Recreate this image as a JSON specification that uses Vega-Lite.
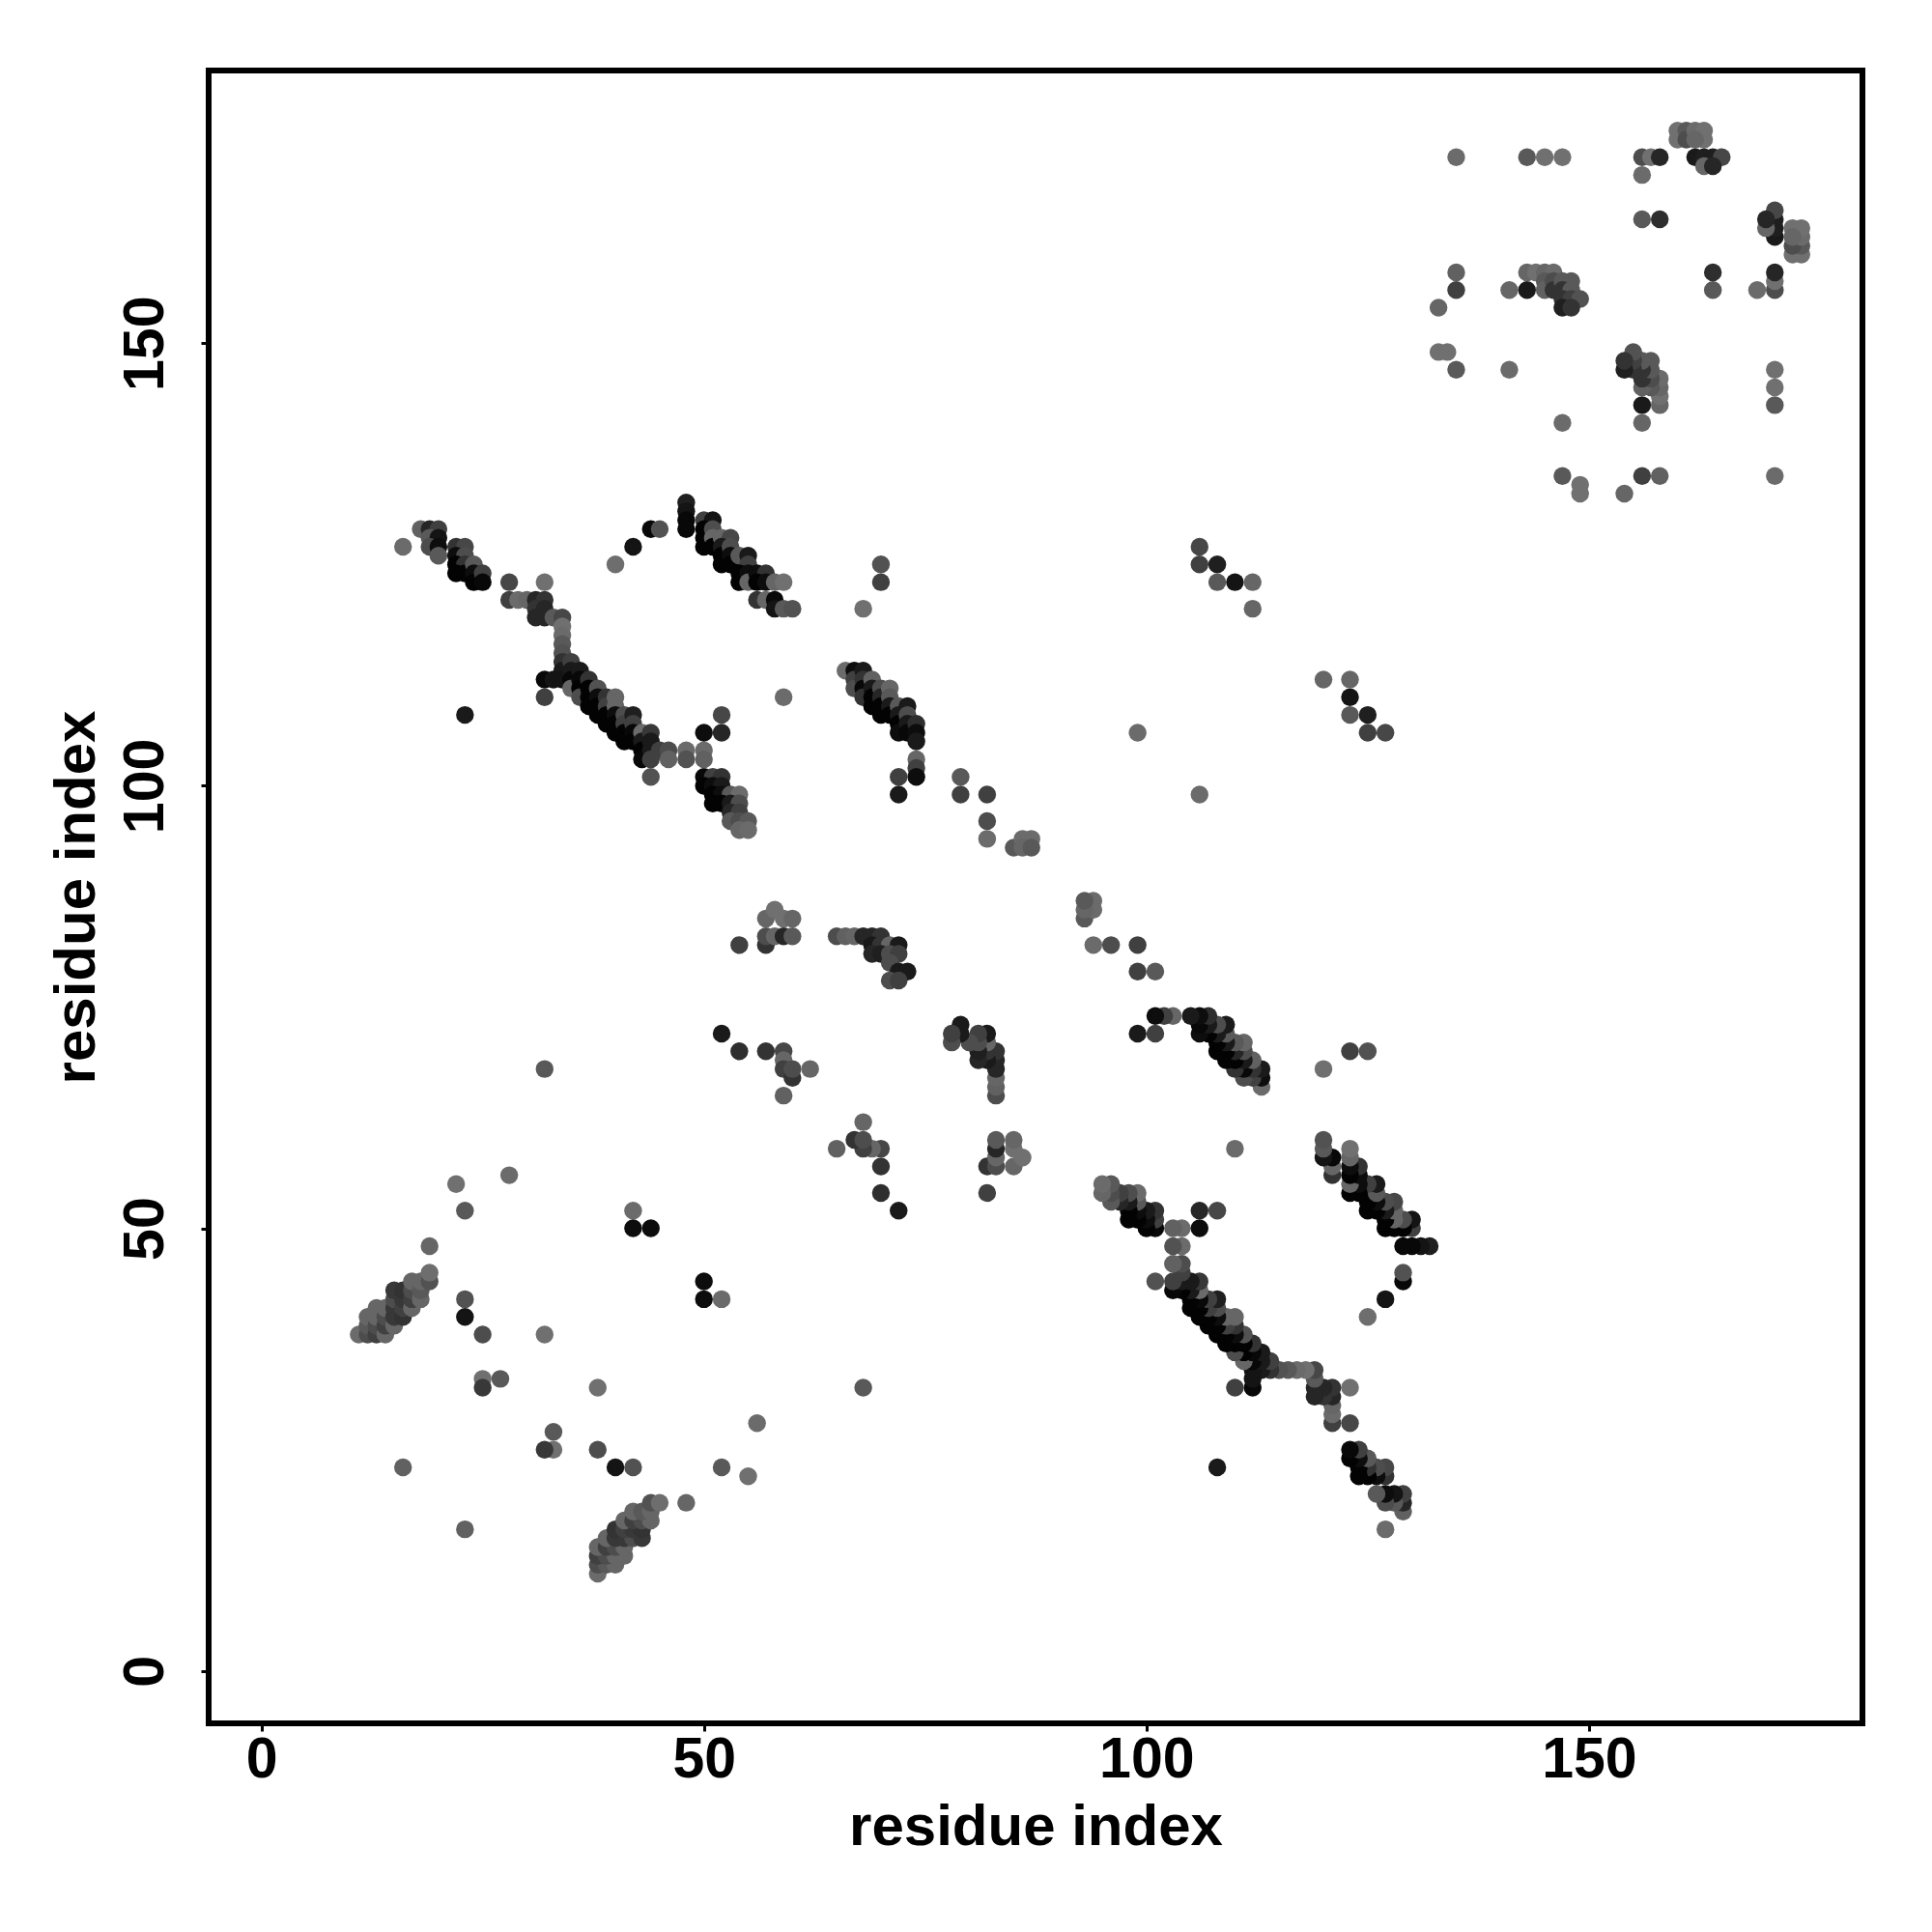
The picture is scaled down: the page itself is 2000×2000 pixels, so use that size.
{"$schema":"https://vega.github.io/schema/vega-lite/v6.json","width":1712,"height":1711,"autosize":"none","padding":{"left":216,"top":73,"right":72,"bottom":216},"background":"white","view":{"stroke":"black","strokeWidth":6,"fill":"white"},"config":{"axis":{"grid":false,"domain":false,"tickColor":"black","tickWidth":3,"tickSize":8,"labelColor":"black","titleColor":"black","labelFont":"Liberation Sans","titleFont":"Liberation Sans","labelFontWeight":"bold","titleFontWeight":"bold","labelFontSize":59,"titleFontSize":60}},"data":{"values":[
{"i":11,"j":38,"p":0.58},{"i":12,"j":38,"p":0.7},{"i":12,"j":39,"p":0.65},{"i":12,"j":40,"p":0.6},{"i":13,"j":38,"p":0.75},{"i":13,"j":39,"p":0.7},{"i":13,"j":40,"p":0.6},{"i":13,"j":41,"p":0.6},{"i":14,"j":38,"p":0.6},{"i":14,"j":39,"p":0.75},{"i":14,"j":40,"p":0.7},{"i":14,"j":41,"p":0.6},{"i":15,"j":39,"p":0.6},{"i":15,"j":40,"p":0.78},{"i":15,"j":41,"p":0.78},{"i":15,"j":42,"p":0.7},{"i":15,"j":43,"p":0.78},{"i":16,"j":40,"p":0.8},{"i":16,"j":41,"p":0.75},{"i":16,"j":42,"p":0.78},{"i":16,"j":43,"p":0.8},{"i":17,"j":41,"p":0.6},{"i":17,"j":42,"p":0.75},{"i":17,"j":43,"p":0.7},{"i":17,"j":44,"p":0.6},{"i":18,"j":42,"p":0.6},{"i":18,"j":43,"p":0.65},{"i":18,"j":44,"p":0.6},{"i":19,"j":44,"p":0.68},{"i":19,"j":45,"p":0.57},
{"i":22,"j":55,"p":0.56},{"i":28,"j":56,"p":0.58},{"i":23,"j":52,"p":0.65},{"i":42,"j":52,"p":0.58},{"i":42,"j":50,"p":0.95},{"i":44,"j":50,"p":0.95},{"i":19,"j":48,"p":0.6},{"i":23,"j":42,"p":0.68},{"i":23,"j":40,"p":0.92},{"i":25,"j":38,"p":0.7},{"i":32,"j":38,"p":0.56},{"i":25,"j":33,"p":0.56},{"i":25,"j":32,"p":0.78},{"i":27,"j":33,"p":0.65},{"i":16,"j":23,"p":0.62},{"i":32,"j":68,"p":0.65},
{"i":40,"j":125,"p":0.57},{"i":42,"j":127,"p":0.92},{"i":44,"j":129,"p":0.97},{"i":45,"j":129,"p":0.68},{"i":48,"j":132,"p":0.88},{"i":48,"j":131,"p":0.92},{"i":48,"j":130,"p":0.97},{"i":48,"j":129,"p":0.97},{"i":50,"j":130,"p":0.75},{"i":51,"j":130,"p":0.92},{"i":50,"j":129,"p":0.99},{"i":50,"j":128,"p":0.99},{"i":50,"j":127,"p":0.99},{"i":51,"j":129,"p":0.7},{"i":51,"j":128,"p":0.6},{"i":51,"j":127,"p":0.99},{"i":52,"j":128,"p":0.6},{"i":53,"j":128,"p":0.72},{"i":52,"j":127,"p":0.9},{"i":52,"j":126,"p":0.99},{"i":52,"j":125,"p":0.99},{"i":53,"j":127,"p":0.7},{"i":53,"j":126,"p":0.95},{"i":53,"j":125,"p":0.99},{"i":54,"j":126,"p":0.65},{"i":55,"j":126,"p":0.9},{"i":55,"j":125,"p":0.75},{"i":54,"j":124,"p":0.99},{"i":54,"j":123,"p":0.99},{"i":55,"j":124,"p":0.95},{"i":55,"j":123,"p":0.6},{"i":56,"j":124,"p":0.95},{"i":57,"j":124,"p":0.8},{"i":56,"j":123,"p":0.99},{"i":57,"j":123,"p":0.95},{"i":58,"j":123,"p":0.6},{"i":59,"j":123,"p":0.56},{"i":56,"j":121,"p":0.8},{"i":57,"j":121,"p":0.6},{"i":58,"j":121,"p":0.97},{"i":58,"j":120,"p":0.92},{"i":59,"j":120,"p":0.65},{"i":60,"j":120,"p":0.68},
{"i":50,"j":101,"p":0.97},{"i":51,"j":101,"p":0.75},{"i":52,"j":101,"p":0.8},{"i":50,"j":100,"p":0.99},{"i":51,"j":100,"p":0.95},{"i":52,"j":100,"p":0.9},{"i":51,"j":99,"p":0.99},{"i":52,"j":99,"p":0.95},{"i":53,"j":99,"p":0.65},{"i":54,"j":99,"p":0.58},{"i":51,"j":98,"p":0.99},{"i":52,"j":98,"p":0.99},{"i":53,"j":98,"p":0.9},{"i":54,"j":98,"p":0.7},{"i":53,"j":97,"p":0.85},{"i":54,"j":97,"p":0.75},{"i":53,"j":96,"p":0.65},{"i":54,"j":96,"p":0.7},{"i":55,"j":96,"p":0.65},{"i":54,"j":95,"p":0.6},{"i":55,"j":95,"p":0.58},
{"i":16,"j":127,"p":0.58},{"i":18,"j":129,"p":0.62},{"i":19,"j":129,"p":0.85},{"i":20,"j":129,"p":0.75},{"i":19,"j":128,"p":0.65},{"i":20,"j":128,"p":0.92},{"i":19,"j":127,"p":0.7},{"i":20,"j":127,"p":0.95},{"i":20,"j":126,"p":0.65},{"i":22,"j":127,"p":0.8},{"i":23,"j":127,"p":0.72},{"i":22,"j":126,"p":0.95},{"i":23,"j":126,"p":0.7},{"i":22,"j":125,"p":0.99},{"i":23,"j":125,"p":0.8},{"i":22,"j":124,"p":0.99},{"i":23,"j":124,"p":0.99},{"i":24,"j":125,"p":0.65},{"i":24,"j":124,"p":0.95},{"i":24,"j":123,"p":0.99},{"i":25,"j":124,"p":0.75},{"i":25,"j":123,"p":0.97},
{"i":28,"j":123,"p":0.72},{"i":32,"j":123,"p":0.56},{"i":28,"j":121,"p":0.75},{"i":29,"j":121,"p":0.58},{"i":30,"j":121,"p":0.6},{"i":31,"j":121,"p":0.85},{"i":32,"j":121,"p":0.8},{"i":31,"j":120,"p":0.8},{"i":32,"j":120,"p":0.85},{"i":31,"j":119,"p":0.85},{"i":32,"j":119,"p":0.85},{"i":33,"j":119,"p":0.65},{"i":34,"j":119,"p":0.72},{"i":34,"j":118,"p":0.56},{"i":34,"j":117,"p":0.58},{"i":34,"j":116,"p":0.65},{"i":34,"j":115,"p":0.68},{"i":34,"j":114,"p":0.8},{"i":34,"j":113,"p":0.9},{"i":34,"j":112,"p":0.92},{"i":32,"j":112,"p":0.97},{"i":33,"j":112,"p":0.92},{"i":32,"j":110,"p":0.75},{"i":23,"j":108,"p":0.9},
{"i":35,"j":114,"p":0.75},{"i":35,"j":113,"p":0.9},{"i":35,"j":112,"p":0.97},{"i":35,"j":111,"p":0.6},{"i":36,"j":113,"p":0.9},{"i":36,"j":112,"p":0.97},{"i":36,"j":111,"p":0.99},{"i":36,"j":110,"p":0.7},{"i":37,"j":112,"p":0.8},{"i":37,"j":111,"p":0.99},{"i":37,"j":110,"p":0.99},{"i":37,"j":109,"p":0.99},{"i":38,"j":111,"p":0.68},{"i":38,"j":110,"p":0.95},{"i":38,"j":109,"p":0.99},{"i":38,"j":108,"p":0.99},{"i":39,"j":110,"p":0.8},{"i":39,"j":109,"p":0.75},{"i":39,"j":108,"p":0.99},{"i":39,"j":107,"p":0.99},{"i":40,"j":110,"p":0.6},{"i":40,"j":109,"p":0.6},{"i":40,"j":108,"p":0.95},{"i":40,"j":107,"p":0.99},{"i":40,"j":106,"p":0.99},{"i":41,"j":108,"p":0.7},{"i":41,"j":107,"p":0.75},{"i":41,"j":106,"p":0.99},{"i":41,"j":105,"p":0.99},{"i":42,"j":108,"p":0.88},{"i":42,"j":107,"p":0.75},{"i":42,"j":106,"p":0.97},{"i":42,"j":105,"p":0.99},{"i":43,"j":106,"p":0.58},{"i":43,"j":105,"p":0.9},{"i":43,"j":104,"p":0.99},{"i":43,"j":103,"p":0.97},{"i":44,"j":106,"p":0.78},{"i":44,"j":105,"p":0.9},{"i":44,"j":104,"p":0.9},{"i":44,"j":103,"p":0.75},{"i":44,"j":101,"p":0.68},{"i":45,"j":104,"p":0.75},{"i":46,"j":104,"p":0.7},{"i":46,"j":103,"p":0.62},{"i":48,"j":104,"p":0.58},{"i":48,"j":103,"p":0.68},{"i":50,"j":104,"p":0.58},{"i":50,"j":103,"p":0.62},{"i":50,"j":106,"p":0.95},{"i":52,"j":106,"p":0.85},{"i":52,"j":108,"p":0.72},
{"i":66,"j":113,"p":0.58},{"i":67,"j":113,"p":0.95},{"i":67,"j":112,"p":0.75},{"i":67,"j":111,"p":0.7},{"i":68,"j":113,"p":0.9},{"i":68,"j":112,"p":0.8},{"i":68,"j":111,"p":0.97},{"i":68,"j":110,"p":0.8},{"i":69,"j":112,"p":0.62},{"i":69,"j":111,"p":0.9},{"i":69,"j":110,"p":0.99},{"i":69,"j":109,"p":0.99},{"i":70,"j":111,"p":0.7},{"i":70,"j":110,"p":0.85},{"i":70,"j":109,"p":0.99},{"i":70,"j":108,"p":0.99},{"i":71,"j":111,"p":0.6},{"i":71,"j":110,"p":0.65},{"i":71,"j":109,"p":0.9},{"i":71,"j":108,"p":0.99},{"i":72,"j":109,"p":0.65},{"i":72,"j":108,"p":0.9},{"i":72,"j":107,"p":0.99},{"i":72,"j":106,"p":0.95},{"i":73,"j":109,"p":0.9},{"i":73,"j":108,"p":0.7},{"i":73,"j":107,"p":0.9},{"i":73,"j":106,"p":0.97},{"i":74,"j":107,"p":0.82},{"i":74,"j":106,"p":0.95},{"i":74,"j":105,"p":0.9},{"i":74,"j":103,"p":0.6},{"i":74,"j":102,"p":0.75},{"i":74,"j":101,"p":0.95},{"i":72,"j":101,"p":0.75},{"i":72,"j":99,"p":0.9},
{"i":59,"j":110,"p":0.58},{"i":70,"j":125,"p":0.68},{"i":70,"j":123,"p":0.75},{"i":68,"j":120,"p":0.56},{"i":79,"j":101,"p":0.65},{"i":79,"j":99,"p":0.75},{"i":82,"j":99,"p":0.75},{"i":82,"j":96,"p":0.7},{"i":82,"j":94,"p":0.58},{"i":85,"j":93,"p":0.65},{"i":86,"j":94,"p":0.58},{"i":87,"j":94,"p":0.58},{"i":86,"j":93,"p":0.6},{"i":87,"j":93,"p":0.65},
{"i":54,"j":82,"p":0.75},{"i":57,"j":82,"p":0.8},{"i":57,"j":83,"p":0.7},{"i":57,"j":85,"p":0.6},{"i":58,"j":83,"p":0.6},{"i":58,"j":86,"p":0.56},{"i":59,"j":83,"p":0.85},{"i":59,"j":85,"p":0.56},{"i":60,"j":83,"p":0.65},{"i":60,"j":85,"p":0.6},{"i":52,"j":72,"p":0.9},{"i":54,"j":70,"p":0.82},{"i":57,"j":70,"p":0.8},{"i":59,"j":70,"p":0.72},{"i":59,"j":69,"p":0.6},{"i":59,"j":68,"p":0.75},{"i":60,"j":67,"p":0.8},{"i":60,"j":68,"p":0.7},{"i":62,"j":68,"p":0.6},{"i":59,"j":65,"p":0.62},
{"i":65,"j":83,"p":0.7},{"i":66,"j":83,"p":0.62},{"i":67,"j":83,"p":0.6},{"i":68,"j":83,"p":0.85},{"i":69,"j":83,"p":0.85},{"i":70,"j":83,"p":0.8},{"i":69,"j":82,"p":0.9},{"i":70,"j":82,"p":0.8},{"i":71,"j":82,"p":0.6},{"i":72,"j":82,"p":0.9},{"i":69,"j":81,"p":0.85},{"i":70,"j":81,"p":0.88},{"i":71,"j":81,"p":0.7},{"i":72,"j":81,"p":0.75},{"i":71,"j":80,"p":0.7},{"i":72,"j":79,"p":0.9},{"i":73,"j":79,"p":0.9},{"i":71,"j":78,"p":0.7},{"i":72,"j":78,"p":0.75},
{"i":99,"j":106,"p":0.58},{"i":106,"j":127,"p":0.72},{"i":106,"j":125,"p":0.75},{"i":108,"j":125,"p":0.88},{"i":108,"j":123,"p":0.65},{"i":110,"j":123,"p":0.92},{"i":112,"j":123,"p":0.6},{"i":112,"j":120,"p":0.6},
{"i":135,"j":171,"p":0.58},{"i":143,"j":171,"p":0.65},{"i":145,"j":171,"p":0.56},{"i":147,"j":171,"p":0.56},{"i":156,"j":171,"p":0.7},{"i":157,"j":171,"p":0.56},{"i":158,"j":171,"p":0.85},{"i":156,"j":169,"p":0.58},{"i":135,"j":158,"p":0.62},{"i":135,"j":156,"p":0.75},{"i":133,"j":154,"p":0.6},{"i":141,"j":156,"p":0.6},{"i":143,"j":156,"p":0.9},{"i":143,"j":158,"p":0.6},{"i":144,"j":158,"p":0.56},{"i":145,"j":158,"p":0.6},{"i":146,"j":158,"p":0.58},{"i":145,"j":157,"p":0.65},{"i":145,"j":156,"p":0.62},{"i":146,"j":157,"p":0.7},{"i":146,"j":156,"p":0.8},{"i":147,"j":157,"p":0.65},{"i":148,"j":157,"p":0.65},{"i":147,"j":156,"p":0.8},{"i":148,"j":156,"p":0.65},{"i":147,"j":155,"p":0.8},{"i":148,"j":155,"p":0.75},{"i":149,"j":155,"p":0.68},{"i":147,"j":154,"p":0.88},{"i":148,"j":154,"p":0.8},{"i":133,"j":149,"p":0.56},{"i":134,"j":149,"p":0.56},{"i":135,"j":147,"p":0.65},{"i":141,"j":147,"p":0.58},{"i":156,"j":164,"p":0.65},{"i":158,"j":164,"p":0.82},{"i":160,"j":174,"p":0.56},{"i":160,"j":173,"p":0.56},{"i":161,"j":174,"p":0.65},{"i":161,"j":173,"p":0.7},{"i":162,"j":174,"p":0.58},{"i":163,"j":174,"p":0.56},{"i":163,"j":173,"p":0.56},{"i":162,"j":173,"p":0.6},{"i":162,"j":171,"p":0.9},{"i":163,"j":171,"p":0.88},{"i":164,"j":171,"p":0.88},{"i":165,"j":171,"p":0.72},{"i":163,"j":170,"p":0.6},{"i":164,"j":170,"p":0.85}
]},"layer":[{"mark":{"type":"circle","size":340,"opacity":1},"encoding":{"x":{"field":"i","type":"quantitative","scale":{"domain":[-5.96,180.9],"nice":false,"zero":false},"axis":{"title":"residue index","values":[0,50,100,150],"labelPadding":0,"titlePadding":11}},"y":{"field":"j","type":"quantitative","scale":{"domain":[-5.92,180.8],"nice":false,"zero":false},"axis":{"title":"residue index","values":[0,50,100,150],"labelAngle":-90,"labelAlign":"center","labelBaseline":"bottom","labelPadding":28,"titlePadding":11}},"color":{"field":"p","type":"quantitative","scale":{"domain":[0,1],"range":["#ffffff","#000000"],"interpolate":"rgb"},"legend":null},"order":[{"field":"i"},{"field":"j"}]}},{"mark":{"type":"circle","size":340,"opacity":1},"encoding":{"x":{"field":"j","type":"quantitative","scale":{"domain":[-5.96,180.9],"nice":false,"zero":false},"axis":{"title":"residue index","values":[0,50,100,150],"labelPadding":0,"titlePadding":11}},"y":{"field":"i","type":"quantitative","scale":{"domain":[-5.92,180.8],"nice":false,"zero":false},"axis":{"title":"residue index","values":[0,50,100,150],"labelAngle":-90,"labelAlign":"center","labelBaseline":"bottom","labelPadding":28,"titlePadding":11}},"color":{"field":"p","type":"quantitative","scale":{"domain":[0,1],"range":["#ffffff","#000000"],"interpolate":"rgb"},"legend":null},"order":[{"field":"j"},{"field":"i"}]}}]}
